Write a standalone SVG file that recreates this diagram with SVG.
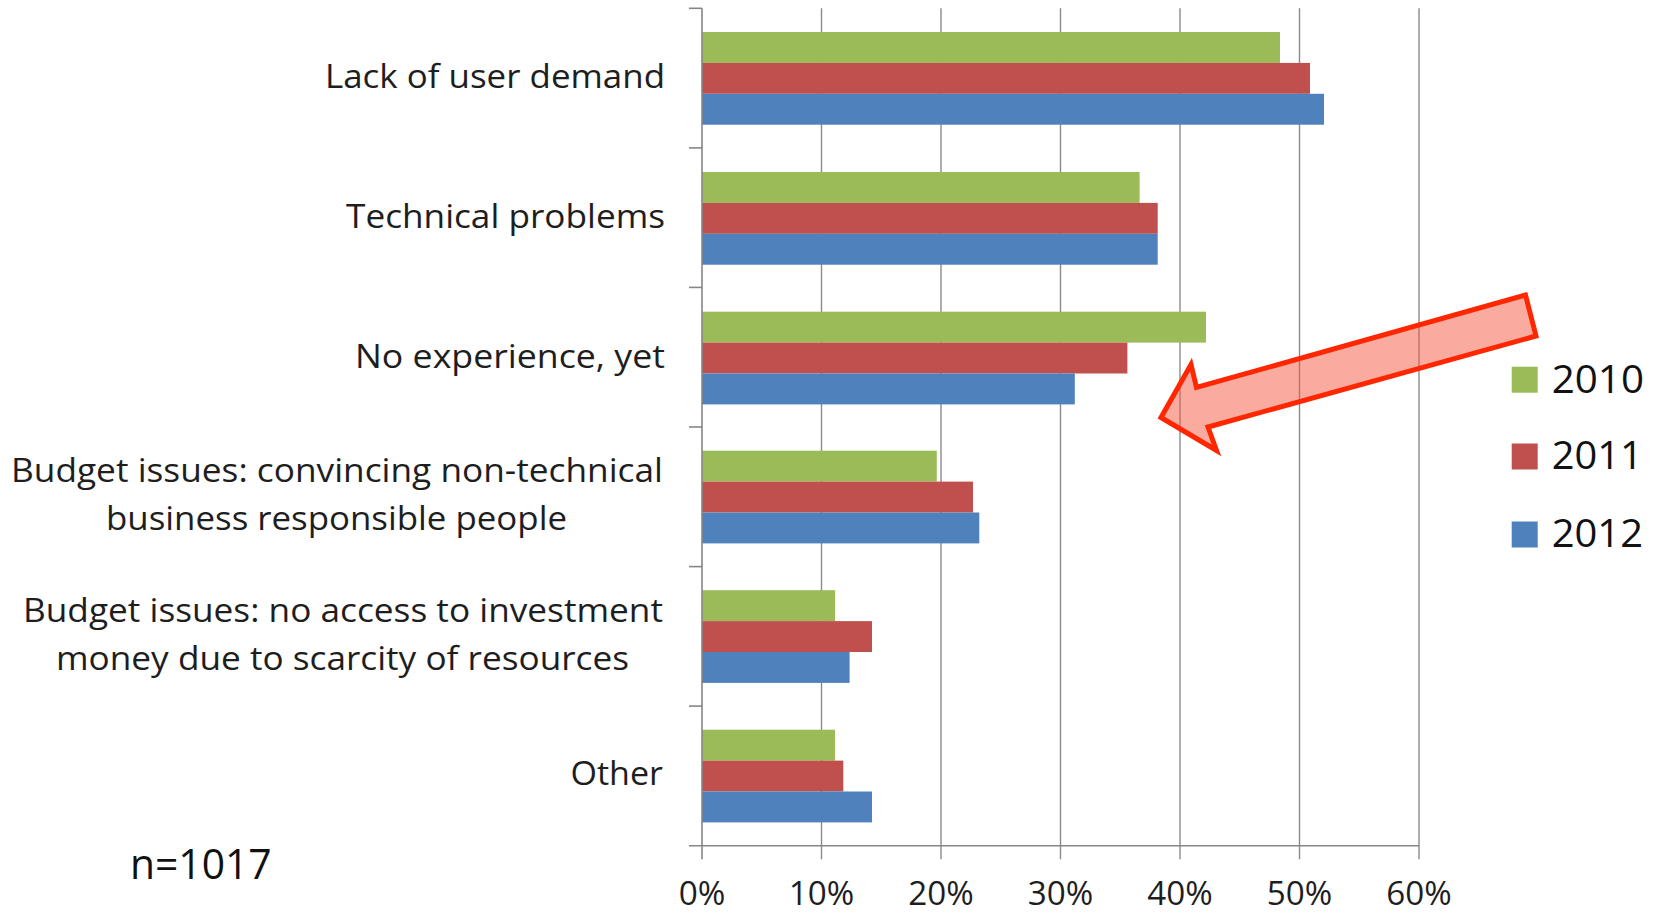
<svg xmlns="http://www.w3.org/2000/svg" width="1659" height="914" viewBox="0 0 1659 914">
<style>
.grid{stroke:#8a8a8a;stroke-width:1.4;fill:none}
.axis{stroke:#868686;stroke-width:1.6;fill:none}
.g{fill:#9BBB59}
.r{fill:#C0504D}
.b{fill:#4F81BD}
.lbl{font-family:"Open Sans","Noto Sans","Liberation Sans",sans-serif;font-size:32px;fill:#1e1e1e}
.tick{font-family:"Open Sans","Noto Sans","Liberation Sans",sans-serif;font-size:33px;fill:#1e1e1e;text-anchor:middle}
.leg{font-family:"Open Sans","Noto Sans","Liberation Sans",sans-serif;font-size:38px;fill:#111}
.note{font-family:"Open Sans","Noto Sans","Liberation Sans",sans-serif;font-size:42px;fill:#111}
.arrow{fill:#F4573F;fill-opacity:0.5;stroke:#FF2600;stroke-width:5;stroke-linejoin:miter}
</style>
<rect x="0" y="0" width="1659" height="914" fill="#ffffff"/>

<g id="gridlines">
<line class="grid" x1="821.5" y1="8.3" x2="821.5" y2="859.3"/>
<line class="grid" x1="941" y1="8.3" x2="941" y2="859.3"/>
<line class="grid" x1="1060.5" y1="8.3" x2="1060.5" y2="859.3"/>
<line class="grid" x1="1180" y1="8.3" x2="1180" y2="859.3"/>
<line class="grid" x1="1299.5" y1="8.3" x2="1299.5" y2="859.3"/>
<line class="grid" x1="1419" y1="8.3" x2="1419" y2="859.3"/>
</g>

<g id="cat-lack-of-user-demand">
<rect class="g" x="702" y="32" width="578" height="30.9"/>
<rect class="r" x="702" y="62.9" width="608" height="30.9"/>
<rect class="b" x="702" y="93.8" width="622" height="30.9"/>
<text class="lbl" x="665" y="88.3" text-anchor="end" textLength="340" lengthAdjust="spacingAndGlyphs">Lack of user demand</text>
</g>

<g id="cat-technical-problems">
<rect class="g" x="702" y="172" width="437.6" height="30.9"/>
<rect class="r" x="702" y="202.9" width="455.7" height="30.9"/>
<rect class="b" x="702" y="233.8" width="455.7" height="30.9"/>
<text class="lbl" x="665" y="228.3" text-anchor="end" textLength="319" lengthAdjust="spacingAndGlyphs">Technical problems</text>
</g>

<g id="cat-no-experience">
<rect class="g" x="702" y="311.7" width="504" height="30.9"/>
<rect class="r" x="702" y="342.6" width="425.4" height="30.9"/>
<rect class="b" x="702" y="373.5" width="372.8" height="30.9"/>
<text class="lbl" x="665" y="368.3" text-anchor="end" textLength="310" lengthAdjust="spacingAndGlyphs">No experience, yet</text>
</g>

<g id="cat-budget-convincing">
<rect class="g" x="702" y="450.7" width="234.8" height="30.9"/>
<rect class="r" x="702" y="481.6" width="271" height="30.9"/>
<rect class="b" x="702" y="512.5" width="277.3" height="30.9"/>
<text class="lbl" x="663" y="481.7" text-anchor="end" textLength="652" lengthAdjust="spacingAndGlyphs">Budget issues: convincing non-technical</text>
<text class="lbl" x="336.5" y="530" text-anchor="middle" textLength="461" lengthAdjust="spacingAndGlyphs">business responsible people</text>
</g>

<g id="cat-budget-no-access">
<rect class="g" x="702" y="590.2" width="133.1" height="30.9"/>
<rect class="r" x="702" y="621.1" width="170" height="30.9"/>
<rect class="b" x="702" y="652" width="147.6" height="30.9"/>
<text class="lbl" x="663" y="621.7" text-anchor="end" textLength="640" lengthAdjust="spacingAndGlyphs">Budget issues: no access to investment</text>
<text class="lbl" x="342.5" y="670" text-anchor="middle" textLength="573" lengthAdjust="spacingAndGlyphs">money due to scarcity of resources</text>
</g>

<g id="cat-other">
<rect class="g" x="702" y="729.7" width="133" height="30.9"/>
<rect class="r" x="702" y="760.6" width="141.3" height="30.9"/>
<rect class="b" x="702" y="791.5" width="170" height="30.9"/>
<text class="lbl" x="663" y="785" text-anchor="end" textLength="92.5" lengthAdjust="spacingAndGlyphs">Other</text>
</g>

<g id="axes">
<line class="axis" x1="702" y1="8.3" x2="702" y2="859.3"/>
<line class="axis" x1="689" y1="845.7" x2="1419" y2="845.7"/>
<line class="axis" x1="689" y1="8.3" x2="702" y2="8.3"/>
<line class="axis" x1="689" y1="147.9" x2="702" y2="147.9"/>
<line class="axis" x1="689" y1="287.4" x2="702" y2="287.4"/>
<line class="axis" x1="689" y1="427" x2="702" y2="427"/>
<line class="axis" x1="689" y1="566.6" x2="702" y2="566.6"/>
<line class="axis" x1="689" y1="706.1" x2="702" y2="706.1"/>
</g>

<g id="x-labels">
<text class="tick" x="702" y="905" textLength="46.7" lengthAdjust="spacingAndGlyphs">0%</text>
<text class="tick" x="821.5" y="905" textLength="65.5" lengthAdjust="spacingAndGlyphs">10%</text>
<text class="tick" x="941" y="905" textLength="65.5" lengthAdjust="spacingAndGlyphs">20%</text>
<text class="tick" x="1060.5" y="905" textLength="65.5" lengthAdjust="spacingAndGlyphs">30%</text>
<text class="tick" x="1180" y="905" textLength="65.5" lengthAdjust="spacingAndGlyphs">40%</text>
<text class="tick" x="1299.5" y="905" textLength="65.5" lengthAdjust="spacingAndGlyphs">50%</text>
<text class="tick" x="1419" y="905" textLength="65.5" lengthAdjust="spacingAndGlyphs">60%</text>
</g>

<g id="legend">
<rect class="g" x="1511.7" y="366.7" width="26" height="26"/>
<text class="leg" x="1551.7" y="392.7" textLength="92.3" lengthAdjust="spacingAndGlyphs">2010</text>
<rect class="r" x="1511.7" y="443.5" width="26" height="26"/>
<text class="leg" x="1551.7" y="469.3" textLength="91" lengthAdjust="spacingAndGlyphs">2011</text>
<rect class="b" x="1511.7" y="521.5" width="26" height="26"/>
<text class="leg" x="1551.7" y="547.3" textLength="91.3" lengthAdjust="spacingAndGlyphs">2012</text>
</g>

<g id="note">
<text class="note" x="130" y="879.3" textLength="141.7" lengthAdjust="spacingAndGlyphs">n=1017</text>
</g>

<g id="connectors">
<polygon id="highlight-arrow" class="arrow" points="1161,417.5 1191,364.5 1196.5,387.5 1525.5,295 1536,336 1208,427 1216.5,450.5"/>
</g>
</svg>
